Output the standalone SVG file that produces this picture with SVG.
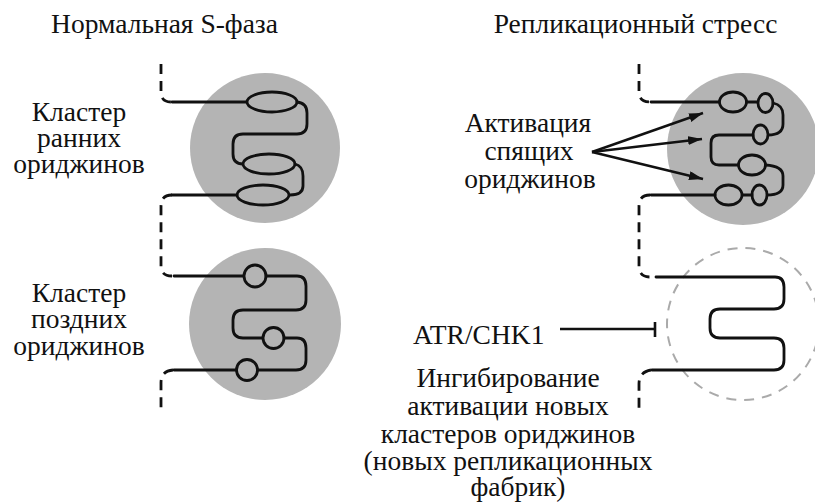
<svg xmlns="http://www.w3.org/2000/svg" width="815" height="504" viewBox="0 0 815 504">
  <style>
    .lbl { font-family: "Liberation Serif", "Times New Roman", serif; font-size: 27.5px; fill: #111; }
    .mid { text-anchor: middle; }
    .zone { fill: #b4b4b4; }
    .zone-off { fill: none; stroke: #aaaaaa; stroke-width: 2; stroke-dasharray: 10 8; }
    .dna { fill: none; stroke: #111; stroke-width: 2.8; stroke-linecap: round; stroke-linejoin: round; }
    .gap { fill: none; stroke: #111; stroke-width: 2.8; stroke-dasharray: 10 7; }
    .ori { fill: #b4b4b4; stroke: #111; stroke-width: 2.8; }
    .arrow { fill: none; stroke: #111; stroke-width: 2.4; marker-end: url(#head); }
    .block { fill: none; stroke: #111; stroke-width: 2.6; }
  </style>
  <defs>
    <marker id="head" markerUnits="userSpaceOnUse" markerWidth="16" markerHeight="10" refX="14" refY="4.5" orient="auto">
      <path d="M0,0 L14,4.5 L0,9 Z" fill="#111"/>
    </marker>
  </defs>

  <!-- column titles -->
  <text class="lbl mid" x="164.5" y="33">Нормальная S-фаза</text>
  <text class="lbl mid" x="635.5" y="33">Репликационный стресс</text>

  <!-- early origin cluster (normal S phase) -->
  <g id="early-cluster">
    <circle class="zone" cx="265" cy="148" r="75"/>
    <path class="gap" d="M161,64 V92 Q161,102 171,102"/>
    <path class="dna" d="M172,102 H247"/>
    <ellipse class="ori" cx="272" cy="102" rx="25" ry="10"/>
    <path class="dna" d="M297,102 Q307,103 307,113 V124 Q307,134 297,134 H243 Q233,134 233,144 V154 Q233,164 243,164"/>
    <ellipse class="ori" cx="269" cy="164" rx="26" ry="10"/>
    <path class="dna" d="M295,164 Q303,166 303,176 V186 Q303,195 290,195"/>
    <ellipse class="ori" cx="263" cy="195" rx="26" ry="10"/>
    <path class="dna" d="M237,195 H172"/>
    <text class="lbl mid" x="79" y="121">Кластер</text>
    <text class="lbl mid" x="79" y="147">ранних</text>
    <text class="lbl mid" x="79" y="173">ориджинов</text>
  </g>

  <!-- late origin cluster (normal S phase) -->
  <g id="late-cluster">
    <circle class="zone" cx="265" cy="324" r="76"/>
    <path class="gap" d="M172,195 Q161,195 161,206 V266 Q161,276 172,276"/>
    <path class="dna" d="M174,276 H244"/>
    <circle class="ori" cx="255" cy="276" r="11"/>
    <path class="dna" d="M266,276 H297 Q306,276 306,286 V300 Q306,310 296,310 H243 Q233,310 233,320 V328 Q233,338 243,338 H263"/>
    <circle class="ori" cx="273.5" cy="338" r="10.5"/>
    <path class="dna" d="M284,338 H297 Q306,338 306,348 V360 Q306,370 296,370 H257.5"/>
    <circle class="ori" cx="247" cy="370" r="10.5"/>
    <path class="dna" d="M236.5,370 H174"/>
    <path class="gap" d="M173,370 Q161,371 161,383 V413"/>
    <text class="lbl mid" x="79" y="302">Кластер</text>
    <text class="lbl mid" x="79" y="328">поздних</text>
    <text class="lbl mid" x="79" y="355">ориджинов</text>
  </g>

  <!-- active cluster with dormant origins firing (replication stress) -->
  <g id="stressed-cluster">
    <circle class="zone" cx="743" cy="149" r="76"/>
    <path class="gap" d="M639,64 V92 Q639,102 650,102"/>
    <path class="dna" d="M651,102 H719.5"/>
    <ellipse class="ori" cx="733" cy="102" rx="13.5" ry="10"/>
    <path class="dna" d="M746.5,102 H758"/>
    <ellipse class="ori" cx="765.5" cy="103" rx="7.5" ry="9.5"/>
    <path class="dna" d="M773,103 Q783,105 783,115 V124 Q783,135 768,135"/>
    <ellipse class="ori" cx="760.5" cy="134.5" rx="7.5" ry="9.5"/>
    <path class="dna" d="M753,135 H719 Q711,135 711,143 V157 Q711,165 719,165 H738.5"/>
    <ellipse class="ori" cx="752" cy="165" rx="13.5" ry="10"/>
    <path class="dna" d="M765.5,165 Q783,166 783,176 V185 Q783,195 767,195"/>
    <ellipse class="ori" cx="759.5" cy="195" rx="7.5" ry="10"/>
    <path class="dna" d="M752,195 H742"/>
    <ellipse class="ori" cx="728.5" cy="195" rx="13.5" ry="10"/>
    <path class="dna" d="M715,195 H651"/>
  </g>

  <!-- inhibited cluster (new factories blocked) -->
  <g id="blocked-cluster">
    <circle class="zone-off" cx="743" cy="324" r="76"/>
    <path class="gap" d="M650,195 Q639,195 639,206 V266 Q639,277 650,277"/>
    <path class="dna" d="M656,277 H775 Q784,277 784,287 V299 Q784,309 774,309 H720 Q710,309 710,319 V328 Q710,338 720,338 H774 Q784,338 784,348 V360 Q784,370 774,370 H652"/>
    <path class="gap" d="M651,370 Q639,372 639,384 V413"/>
  </g>

  <g id="dormant-label">
    <text class="lbl mid" x="528" y="132">Активация</text>
    <text class="lbl mid" x="529" y="160">спящих</text>
    <text class="lbl mid" x="530" y="188">ориджинов</text>
  </g>

  <g id="atr-label">
    <text class="lbl" x="413" y="344">ATR/CHK1</text>
  </g>

  <g id="inhibition-label">
    <text class="lbl mid" x="508" y="387">Ингибирование</text>
    <text class="lbl mid" x="508" y="415">активации новых</text>
    <text class="lbl mid" x="508" y="443">кластеров ориджинов</text>
    <text class="lbl mid" x="508" y="470">(новых репликационных</text>
    <text class="lbl mid" x="518" y="496">фабрик)</text>
  </g>

  <!-- connectors -->
  <g id="connectors">
    <path class="arrow" d="M592,152 L703,113"/>
    <path class="arrow" d="M592,152 L702,139"/>
    <path class="arrow" d="M592,152 L703,179"/>
    <path class="block" d="M560,329 H655 M655,322 V337"/>
  </g>
</svg>
